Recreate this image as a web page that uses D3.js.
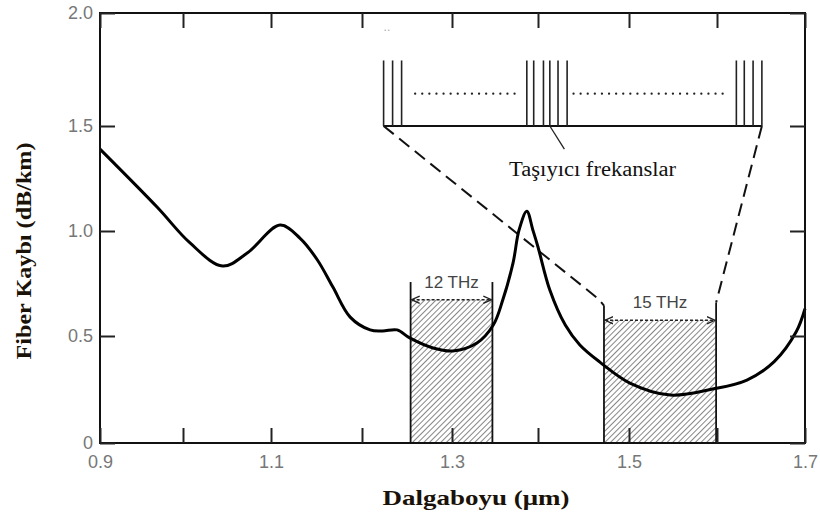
<!DOCTYPE html>
<html>
<head>
<meta charset="utf-8">
<script src="https://cdn.jsdelivr.net/npm/d3@7/dist/d3.min.js"></script>
<style>
  body { margin: 0; background: #fff; }
</style>
</head>
<body>
<script>
var w = 820;
var h = 522;

// fibre loss curve
var wavelength = [0.90, 0.969, 1.008, 1.045, 1.073, 1.110, 1.132, 1.151, 1.168, 1.187, 1.209, 1.223, 1.239,
                  1.253, 1.279, 1.301, 1.329, 1.348, 1.359, 1.371, 1.378, 1.387, 1.394, 1.400, 1.413, 1.430,
                  1.446, 1.468, 1.501, 1.547, 1.595, 1.634, 1.665, 1.690, 1.70];
var loss = [1.39, 1.113, 0.943, 0.833, 0.895, 1.028, 0.965, 0.862, 0.733, 0.590, 0.529, 0.524, 0.529,
            0.491, 0.444, 0.430, 0.467, 0.552, 0.671, 0.848, 1.005, 1.094, 1.005, 0.924, 0.719, 0.552,
            0.458, 0.378, 0.280, 0.224, 0.252, 0.294, 0.38, 0.52, 0.63];

var xTicks = [0.9, 1.0, 1.1, 1.2, 1.3, 1.4, 1.5, 1.6, 1.7];
var xLabels = ["0.9", "", "1.1", "", "1.3", "", "1.5", "", "1.7"];
var yTicks = [0, 0.5, 1.0, 1.5, 2.0];
var yLabels = ["0", "0.5", "1.0", "1.5", "2.0"];

// the two transmission windows
var windowNames = ["12 THz", "15 THz"];
var windowStart = [1.254, 1.4725];
var windowEnd = [1.347, 1.599];
var windowTop = [0.673, 0.575];
var windowLeftTop = [0.757, 0.645];
var windowRightTop = [0.757, 0.659];

// inset with the carrier frequencies
var carriers = [1.224, 1.234, 1.244, 1.387, 1.395, 1.406, 1.413, 1.422, 1.432, 1.622, 1.631, 1.641, 1.651];
var insetBase = 1.5;
var insetTop = 1.79;
var insetDots = 1.643;
var dotStart = [1.259, 1.439];
var dotEnd = [1.379, 1.611];

// scanned figure is slightly uneven, so the scales are piecewise
var x = d3.scaleLinear()
          .domain(xTicks)
          .range([100, 183, 271, 362, 452, 538, 629, 717, 805]);
var y = d3.scaleLinear()
          .domain(yTicks)
          .range([443, 336, 231, 126, 13]);

var svg = d3.select("body").append("svg")
            .attr("width", w)
            .attr("height", h);

var defs = svg.append("defs");
defs.append("pattern")
    .attr("id", "hatch")
    .attr("patternUnits", "userSpaceOnUse")
    .attr("width", 4)
    .attr("height", 4)
    .attr("patternTransform", "rotate(45)")
  .append("line")
    .attr("x1", 0).attr("y1", 0)
    .attr("x2", 0).attr("y2", 4)
    .attr("stroke", "#444")
    .attr("stroke-width", 1.3);
defs.append("marker")
    .attr("id", "arr")
    .attr("viewBox", "0 0 10 10")
    .attr("refX", 9).attr("refY", 5)
    .attr("markerWidth", 9).attr("markerHeight", 9)
    .attr("markerUnits", "userSpaceOnUse")
    .attr("orient", "auto-start-reverse")
  .append("path")
    .attr("d", "M0,1 L9,5 L0,9")
    .attr("fill", "none")
    .attr("stroke", "#222")
    .attr("stroke-width", 1.5);

// hatched windows
var win = svg.selectAll("g.win")
             .data(windowNames)
             .enter()
             .append("g")
             .attr("class", "win");

win.append("rect")
   .attr("x", function(d, i){ return x(windowStart[i]); })
   .attr("y", function(d, i){ return y(windowTop[i]); })
   .attr("width", function(d, i){ return x(windowEnd[i]) - x(windowStart[i]); })
   .attr("height", function(d, i){ return y(0) - y(windowTop[i]); })
   .attr("fill", "url(#hatch)");

win.append("line")
   .attr("x1", function(d, i){ return x(windowStart[i]); })
   .attr("x2", function(d, i){ return x(windowStart[i]); })
   .attr("y1", y(0))
   .attr("y2", function(d, i){ return y(windowLeftTop[i]); })
   .attr("stroke", "#111")
   .attr("stroke-width", 1.8);

win.append("line")
   .attr("x1", function(d, i){ return x(windowEnd[i]); })
   .attr("x2", function(d, i){ return x(windowEnd[i]); })
   .attr("y1", y(0))
   .attr("y2", function(d, i){ return y(windowRightTop[i]); })
   .attr("stroke", "#111")
   .attr("stroke-width", 1.8);

win.append("line")
   .attr("x1", function(d, i){ return x(windowStart[i]) + 1; })
   .attr("x2", function(d, i){ return x(windowEnd[i]) - 1; })
   .attr("y1", function(d, i){ return y(windowTop[i]); })
   .attr("y2", function(d, i){ return y(windowTop[i]); })
   .attr("stroke", "#222")
   .attr("stroke-width", 1.5)
   .attr("stroke-dasharray", "3,2")
   .attr("marker-start", "url(#arr)")
   .attr("marker-end", "url(#arr)");

win.append("text")
   .text(function(d){ return d; })
   .attr("x", function(d, i){ return (x(windowStart[i]) + x(windowEnd[i])) / 2; })
   .attr("y", function(d, i){ return y(windowTop[i]) - 12; })
   .attr("text-anchor", "middle")
   .attr("font-family", "Liberation Sans, Arial, sans-serif")
   .attr("font-size", "17px")
   .attr("fill", "#444");

// dashed lines from the inset down to the 15 THz window
var dash = d3.line();
svg.append("path")
   .attr("d", dash([[x(carriers[0]), y(insetBase)], [x(1.466), y(0.678)], [x(windowStart[1]), y(windowLeftTop[1])]]))
   .attr("fill", "none")
   .attr("stroke", "#111")
   .attr("stroke-width", 2)
   .attr("stroke-dasharray", "13,7");
svg.append("path")
   .attr("d", dash([[x(carriers[carriers.length - 1]), y(insetBase)], [x(windowEnd[1]), y(windowRightTop[1])]]))
   .attr("fill", "none")
   .attr("stroke", "#111")
   .attr("stroke-width", 2)
   .attr("stroke-dasharray", "13,7");

// inset
svg.append("line")
   .attr("x1", x(carriers[0]))
   .attr("x2", x(carriers[carriers.length - 1]))
   .attr("y1", y(insetBase))
   .attr("y2", y(insetBase))
   .attr("stroke", "#111")
   .attr("stroke-width", 2);

svg.selectAll("line.carrier")
   .data(carriers)
   .enter()
   .append("line")
   .attr("class", "carrier")
   .attr("x1", function(d){ return x(d); })
   .attr("x2", function(d){ return x(d); })
   .attr("y1", y(insetBase))
   .attr("y2", y(insetTop))
   .attr("stroke", "#222")
   .attr("stroke-width", 1.6);

svg.selectAll("line.dots")
   .data(dotStart)
   .enter()
   .append("line")
   .attr("class", "dots")
   .attr("x1", function(d){ return x(d); })
   .attr("x2", function(d, i){ return x(dotEnd[i]); })
   .attr("y1", y(insetDots))
   .attr("y2", y(insetDots))
   .attr("stroke", "#222")
   .attr("stroke-width", 2.2)
   .attr("stroke-linecap", "round")
   .attr("stroke-dasharray", "0.1,7");

svg.append("line")
   .attr("x1", x(1.413)).attr("y1", y(insetBase))
   .attr("x2", x(1.429)).attr("y2", y(1.39))
   .attr("stroke", "#222")
   .attr("stroke-width", 1.3);

svg.append("text")
   .text("Taşıyıcı frekanslar")
   .attr("x", x(1.46))
   .attr("y", y(1.26))
   .attr("text-anchor", "middle")
   .attr("font-family", "Liberation Serif, Times New Roman, serif")
   .attr("font-size", "20px")
   .attr("textLength", 167)
   .attr("lengthAdjust", "spacingAndGlyphs")
   .attr("fill", "#111");

svg.append("text")
   .text("..")
   .attr("x", x(1.224))
   .attr("y", y(1.92))
   .attr("font-family", "Liberation Sans, sans-serif")
   .attr("font-size", "12px")
   .attr("fill", "#aaa");

// loss curve
var line = d3.line()
             .x(function(d){ return x(d); })
             .y(function(d, i){ return y(loss[i]); })
             .curve(d3.curveCatmullRom.alpha(0.5));
svg.append("path")
   .attr("d", line(wavelength))
   .attr("fill", "none")
   .attr("stroke", "#000")
   .attr("stroke-width", 3);

// frame and inward ticks
svg.append("rect")
   .attr("x", x(0.9))
   .attr("y", y(2))
   .attr("width", x(1.7) - x(0.9))
   .attr("height", y(0) - y(2))
   .attr("fill", "none")
   .attr("stroke", "#111")
   .attr("stroke-width", 2);

var bottomAxis = svg.append("g")
   .attr("transform", "translate(0," + y(0) + ")")
   .call(d3.axisBottom(x).tickValues(xTicks).tickSize(-15)
           .tickFormat(function(d, i){ return xLabels[i]; }));
var topAxis = svg.append("g")
   .attr("transform", "translate(0," + y(2) + ")")
   .call(d3.axisTop(x).tickValues(xTicks).tickSize(-15).tickFormat(""));
var leftAxis = svg.append("g")
   .attr("transform", "translate(" + x(0.9) + ",0)")
   .call(d3.axisLeft(y).tickValues(yTicks).tickSize(-15)
           .tickFormat(function(d, i){ return yLabels[i]; }));
var rightAxis = svg.append("g")
   .attr("transform", "translate(" + x(1.7) + ",0)")
   .call(d3.axisRight(y).tickValues(yTicks).tickSize(-15).tickFormat(""));

[bottomAxis, topAxis, leftAxis, rightAxis].forEach(function(g){
  g.select(".domain").remove();
  g.selectAll(".tick line").attr("stroke", "#222").attr("stroke-width", 2);
  g.selectAll(".tick text")
   .attr("font-family", "Liberation Sans, Arial, sans-serif")
   .attr("font-size", "18px")
   .attr("fill", "#777");
});
leftAxis.selectAll(".tick text").attr("x", -7);
bottomAxis.selectAll(".tick text").attr("y", 12);

// axis titles
svg.append("text")
   .text("Dalgaboyu (μm)")
   .attr("x", 476)
   .attr("y", 505)
   .attr("text-anchor", "middle")
   .attr("font-family", "Liberation Serif, Times New Roman, serif")
   .attr("font-weight", "bold")
   .attr("font-size", "22px")
   .attr("textLength", 187)
   .attr("lengthAdjust", "spacingAndGlyphs")
   .attr("fill", "#1a1208");

svg.append("text")
   .text("Fiber Kaybı (dB/km)")
   .attr("transform", "translate(31,251) rotate(-90)")
   .attr("text-anchor", "middle")
   .attr("font-family", "Liberation Serif, Times New Roman, serif")
   .attr("font-weight", "bold")
   .attr("font-size", "22px")
   .attr("textLength", 217)
   .attr("lengthAdjust", "spacingAndGlyphs")
   .attr("fill", "#1a1208");
</script>
</body>
</html>
